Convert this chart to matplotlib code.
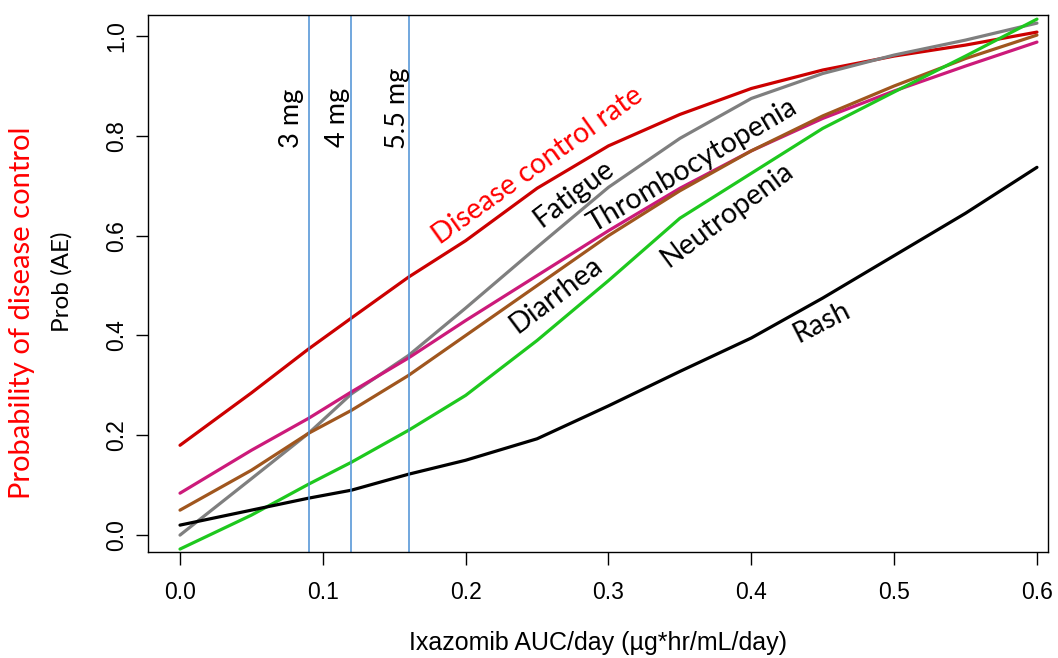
import matplotlib
matplotlib.use("Agg")
import matplotlib.pyplot as plt

# exposure (AUC/day) grid at which curves were read
auc = [0.0, 0.05, 0.09, 0.12, 0.16, 0.2, 0.25, 0.3, 0.35, 0.4, 0.45, 0.5, 0.55, 0.6]

disease_control = [0.18, 0.285, 0.373, 0.435, 0.517, 0.59, 0.695, 0.78, 0.843, 0.895, 0.932, 0.96, 0.982, 1.008]
fatigue = [0.0, 0.113, 0.204, 0.283, 0.36, 0.455, 0.577, 0.697, 0.795, 0.875, 0.925, 0.962, 0.992, 1.026]
thrombocytopenia = [0.084, 0.17, 0.234, 0.287, 0.355, 0.43, 0.52, 0.61, 0.695, 0.77, 0.835, 0.89, 0.94, 0.988]
diarrhea = [0.05, 0.13, 0.204, 0.25, 0.32, 0.40, 0.50, 0.60, 0.69, 0.77, 0.84, 0.90, 0.955, 1.002]
neutropenia = [-0.028, 0.04, 0.102, 0.146, 0.21, 0.28, 0.39, 0.51, 0.635, 0.725, 0.815, 0.888, 0.96, 1.034]
rash = [0.02, 0.05, 0.074, 0.09, 0.122, 0.15, 0.193, 0.259, 0.328, 0.395, 0.475, 0.56, 0.645, 0.737]

dose_auc = [0.09, 0.12, 0.16]
dose_labels = ["3 mg", "4 mg", "5.5 mg"]

series = [
    ("Disease control rate", disease_control, "#cc0000"),
    ("Fatigue", fatigue, "#7f7f7f"),
    ("Thrombocytopenia", thrombocytopenia, "#cc1a7a"),
    ("Diarrhea", diarrhea, "#a0561e"),
    ("Neutropenia", neutropenia, "#1ec81e"),
    ("Rash", rash, "#000000"),
]

# label positions (x, y, angle) for curve names
label_pos = {
    "Disease control rate": (0.2506, 0.7415, 35.5, "red"),
    "Fatigue": (0.276, 0.685, 37, "black"),
    "Thrombocytopenia": (0.359, 0.741, 30.5, "black"),
    "Diarrhea": (0.2635, 0.482, 37, "black"),
    "Neutropenia": (0.383, 0.643, 36.5, "black"),
    "Rash": (0.449, 0.427, 27, "black"),
}
dose_text_pos = [(0.0784, 0.836), (0.1106, 0.836), (0.152, 0.856)]

calibri = ["Lato", "DejaVu Sans"]
arial = ["Liberation Sans", "DejaVu Sans"]

fig = plt.figure(figsize=(10.58, 6.58), dpi=100)
ax = fig.add_axes([0.1399, 0.161, 0.8506, 0.816])

for name, vals, col in series:
    ax.plot(auc, vals, color=col, lw=2.3, solid_capstyle="round", solid_joinstyle="round")

for d in dose_auc:
    ax.axvline(d, color="#4a8fd4", lw=1.1)

for name, (x, y, ang, col) in label_pos.items():
    ax.text(x, y, name, rotation=ang, rotation_mode="anchor", ha="center",
            va="center", fontsize=20.5, color=col, family=calibri)

for (x, y), lab in zip(dose_text_pos, dose_labels):
    ax.text(x, y, lab, rotation=90, rotation_mode="anchor", ha="center",
            va="center", fontsize=19.5, family=calibri)

ax.set_xlim(-0.0224, 0.6077)
ax.set_ylim(-0.034, 1.042)
ax.set_xticks([0.0, 0.1, 0.2, 0.3, 0.4, 0.5, 0.6])
ax.set_yticks([0.0, 0.2, 0.4, 0.6, 0.8, 1.0])
ax.set_xticklabels(["0.0", "0.1", "0.2", "0.3", "0.4", "0.5", "0.6"], family=arial, fontsize=16.5)
ax.set_yticklabels(["0.0", "0.2", "0.4", "0.6", "0.8", "1.0"], family=arial, fontsize=16.5,
                   rotation=90, va="center")
ax.tick_params(axis="both", length=9, width=1, colors="black")
ax.tick_params(axis="x", pad=12)
ax.tick_params(axis="y", pad=5)
for sp in ax.spines.values():
    sp.set_linewidth(1)

ax.set_xlabel("Ixazomib AUC/day (µg*hr/mL/day)", family=arial, fontsize=18, labelpad=19)

fig.text(22 / 1058, 1 - 313 / 658, "Probability of disease control", rotation=90,
         color="red", fontsize=21, family=calibri, ha="center", va="center")
fig.text(62 / 1058, 1 - 282 / 658, "Prob (AE)", rotation=90,
         color="black", fontsize=17.5, family=calibri, ha="center", va="center")

fig.savefig("out.png", dpi=100)
